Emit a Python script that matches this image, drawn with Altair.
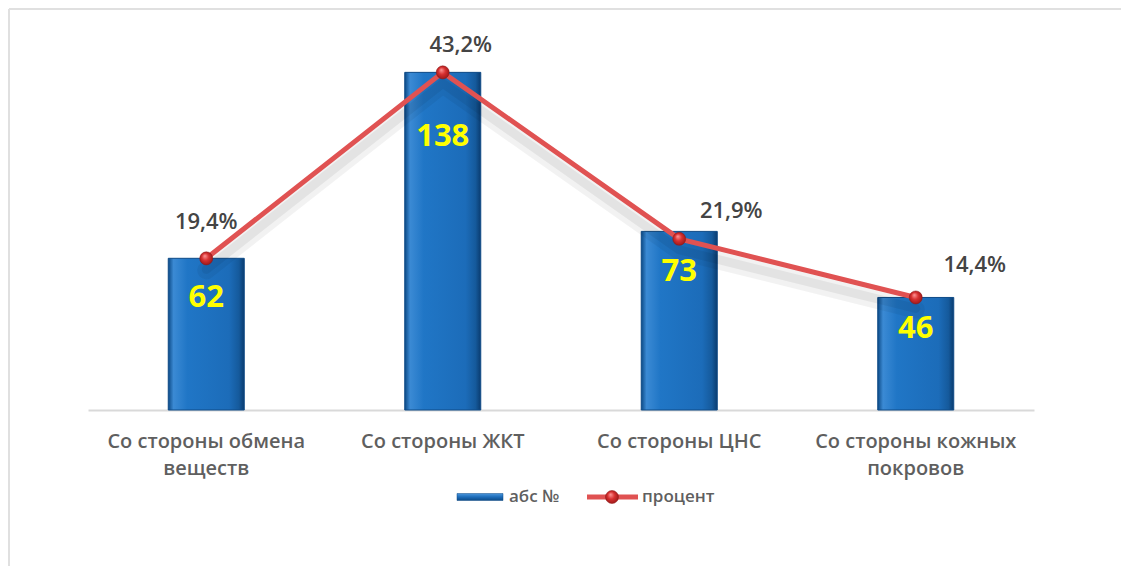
import altair as alt
import pandas as pd

categories = ["Со стороны обмена веществ", "Со стороны ЖКТ", "Со стороны ЦНС", "Со стороны кожных покровов"]
abs_values = [62, 138, 73, 46]
pct_values = [19.4, 43.2, 21.9, 14.4]
legend_labels = ["абс №", "процент"]

df = pd.DataFrame({"cat": categories, "abs": abs_values, "pct": pct_values})
one = pd.DataFrame({"k": [0]})

W, H = 946, 367
ABS_MAX = 150
PCT_MAX = ABS_MAX * max(pct_values) / max(abs_values)

FONT = "Open Sans"
GRAY = "#5f5f5f"
DARK = "#444444"
RED = "#e05252"

# style offsets for label placement (px), per category order
pct_dx = [0, 18, 52, 59]
pct_dy = [-36, -27, -28, -32]
abs_dy = [40, 65, 41, 32]

bar_grad = alt.LinearGradient(
    gradient="linear", x1=0, x2=1, y1=0, y2=0,
    stops=[
        alt.GradientStop(color="#0c4a86", offset=0),
        alt.GradientStop(color="#3b8ad4", offset=0.07),
        alt.GradientStop(color="#2076c6", offset=0.25),
        alt.GradientStop(color="#1c6cb9", offset=0.8),
        alt.GradientStop(color="#155a9c", offset=0.93),
        alt.GradientStop(color="#0a3c70", offset=1),
    ],
)
swatch_grad = alt.LinearGradient(
    gradient="linear", x1=0, x2=0, y1=0, y2=1,
    stops=[
        alt.GradientStop(color="#4a96dc", offset=0),
        alt.GradientStop(color="#1c6cb9", offset=0.5),
        alt.GradientStop(color="#0c4a86", offset=1),
    ],
)
ball = alt.RadialGradient(
    gradient="radial", x1=0.38, y1=0.3, r1=0, x2=0.5, y2=0.5, r2=0.6,
    stops=[
        alt.GradientStop(color="#ff9a9a", offset=0),
        alt.GradientStop(color="#d83030", offset=0.45),
        alt.GradientStop(color="#8e1414", offset=1),
    ],
)

label_expr = ("length(datum.label) > 16 ? "
              "[substring(datum.label, 0, lastindexof(datum.label, ' ')), "
              "substring(datum.label, lastindexof(datum.label, ' ') + 1)] : datum.label")

x = alt.X(
    "cat:N", sort=categories,
    scale=alt.Scale(paddingInner=0, paddingOuter=0),
    axis=alt.Axis(
        title=None, labelExpr=label_expr, labelFont=FONT, labelFontSize=20,
        labelFontWeight=600, labelColor=GRAY, labelPadding=21, labelLineHeight=27,
        ticks=False, domainColor="#d9d9d9", domainWidth=2, labelAngle=0, labelLimit=400,
        grid=False,
    ),
)
y_abs = alt.Y("abs:Q", scale=alt.Scale(domain=[0, ABS_MAX]), axis=None)
y_pct = alt.Y("pct:Q", scale=alt.Scale(domain=[0, PCT_MAX]), axis=None)

base = alt.Chart(df)

bars = base.mark_bar(size=76, fill=bar_grad, stroke="#0e4a86", strokeWidth=1).encode(x=x, y=y_abs)

shadow2 = base.mark_line(color="#000000", opacity=0.05, strokeWidth=18, strokeCap="round").encode(
    x=x, y=y_pct, yOffset=alt.value(12)
)
shadow = base.mark_line(color="#000000", opacity=0.06, strokeWidth=9, strokeCap="round").encode(
    x=x, y=y_pct, yOffset=alt.value(11)
)
line = base.mark_line(color=RED, strokeWidth=5).encode(x=x, y=y_pct)
points = base.mark_point(filled=True, size=170, fill=ball, stroke="#8e1414", strokeWidth=0.5, opacity=1).encode(
    x=x, y=y_pct
)

layers = [bars, shadow2, shadow, line, points]

for i, c in enumerate(categories):
    layers.append(
        base.transform_filter(alt.datum.cat == c)
        .transform_calculate(lbl="replace(format(datum.pct, '.1f'), '.', ',') + '%'")
        .mark_text(font=FONT, fontSize=22, fontWeight=600, color=DARK, dx=pct_dx[i], dy=pct_dy[i],
                   baseline="middle", align="center")
        .encode(x=x, y=y_pct, text="lbl:N")
    )
    layers.append(
        base.transform_filter(alt.datum.cat == c)
        .mark_text(font=FONT, fontSize=31, fontWeight="bold", color="#ffff00", dy=abs_dy[i],
                   baseline="middle", align="center")
        .encode(x=x, y=y_abs, text="abs:Q")
    )

# legend (decoration)
dec = alt.Chart(one)
layers.append(dec.mark_rect(fill=swatch_grad, stroke="#0e4a86", strokeWidth=0.5).encode(
    x=alt.value(369), x2=alt.value(415), y=alt.value(450.5), y2=alt.value(457.5)))
layers.append(dec.mark_text(font=FONT, fontSize=17, fontWeight=600, color=GRAY, align="left", baseline="middle").encode(
    x=alt.value(421), y=alt.value(454), text=alt.value(legend_labels[0])))
layers.append(dec.mark_rule(color=RED, strokeWidth=5).encode(
    x=alt.value(499), x2=alt.value(550), y=alt.value(454)))
layers.append(dec.mark_point(filled=True, size=170, fill=ball, stroke="#8e1414", strokeWidth=0.5, opacity=1).encode(
    x=alt.value(524), y=alt.value(454)))
layers.append(dec.mark_text(font=FONT, fontSize=17, fontWeight=600, color=GRAY, align="left", baseline="middle").encode(
    x=alt.value(554), y=alt.value(454), text=alt.value(legend_labels[1])))
# outer frame lines
layers.append(dec.mark_rule(color="#e0e0e0", strokeWidth=2).encode(
    x=alt.value(-79), x2=alt.value(W + 87), y=alt.value(-34)))
layers.append(dec.mark_rule(color="#e0e0e0", strokeWidth=2).encode(
    x=alt.value(-79), y=alt.value(-34), y2=alt.value(H + 156)))

chart = (
    alt.layer(*layers)
    .resolve_scale(y="independent")
    .properties(
        width=W, height=H,
        autosize=alt.AutoSizeParams(type="none"),
        padding={"left": 80, "top": 35, "right": 87, "bottom": 156},
        background="white",
    )
    .configure_view(stroke=None)
)

chart.save("out.html", embed_options={"renderer": "svg", "actions": False})
